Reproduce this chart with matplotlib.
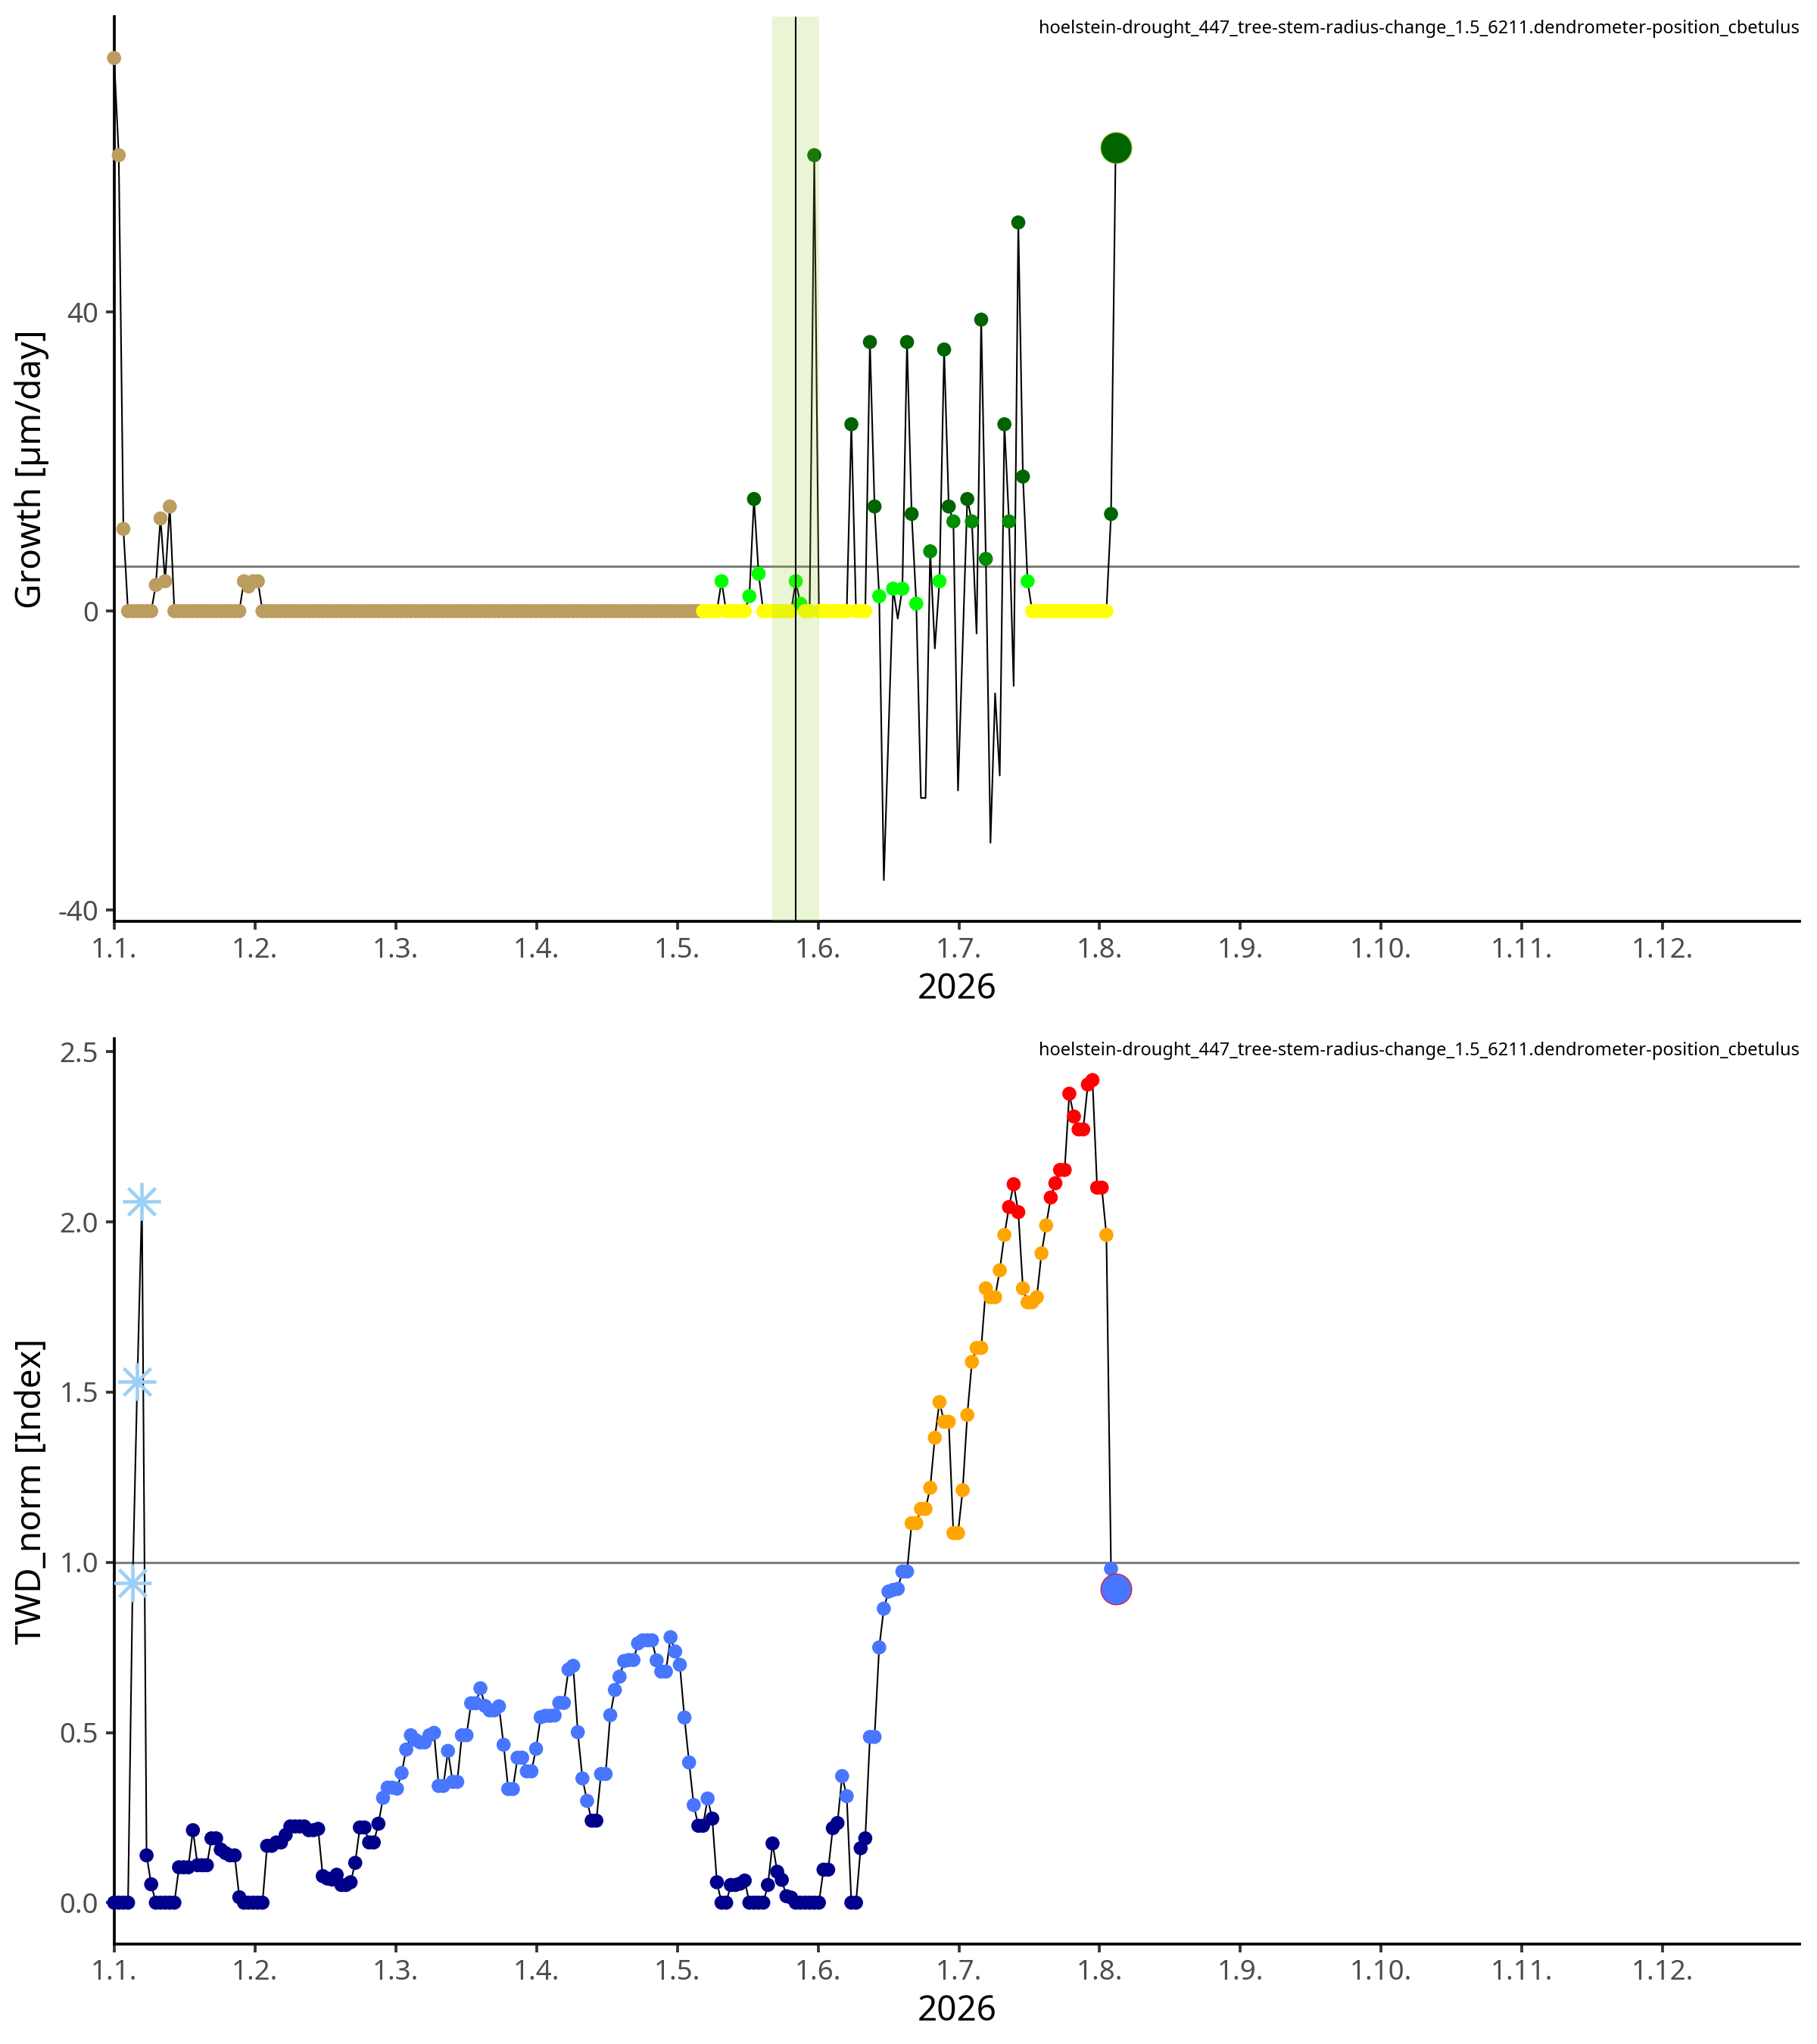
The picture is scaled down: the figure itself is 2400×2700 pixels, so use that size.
import numpy as np
import matplotlib

matplotlib.use("Agg")
import matplotlib.pyplot as plt

plt.rcParams["font.family"] = ["Noto Sans", "DejaVu Sans"]

nan = float("nan")

series_name = "hoelstein-drought_447_tree-stem-radius-change_1.5_6211.dendrometer-position_cbetulus"
year_label = "2026"
month_labels = ["1.1.", "1.2.", "1.3.", "1.4.", "1.5.", "1.6.",
                "1.7.", "1.8.", "1.9.", "1.10.", "1.11.", "1.12."]

# daily growth [um/day], day 0 = 1 Jan
growth = (
    [74, 61, 11, 0, 0, 0, 0, 0, 0, 3.5, 12.4, 4, 14]                 # d0-12
    + [0] * 15                                                        # d13-27
    + [4, 3.3, 4, 4]                                                  # d28-31
    + [0] * 95                                                        # d32-126
    + [0, 0, 0, 0, 4, 0, 0, 0, 0, 0, 2, 15, 5]                        # d127-139
    + [0, 0, 0, 0, 0, 0, 0, 4, 1, 0, 0, 61]                           # d140-151
    + [0, 0, 0, 0, 0, 0, 0, 25, 0, 0, 0, 36, 14, 2, -36, nan, 3, -1, 3, 36]   # d152-171
    + [13, 1, -25, -25, 8, -5, 4, 35, 14, 12, -24, nan, 15, 12, -3, 39, 7, -31, -11, -22]  # d172-191
    + [25, 12, -10, 52, 18, 4]                                        # d192-197
    + [0] * 17                                                        # d198-214
    + [13, 62]                                                        # d215-216
)

# daily TWD_norm [Index]
twd_norm = [
    0, 0, 0, 0, 0.94, 1.53, 2.06, 0.139, 0.054, 0,
    0, 0, 0, 0, 0.104, 0.104, 0.104, 0.213, 0.11, 0.11,
    0.11, 0.189, 0.189, 0.156, 0.146, 0.139, 0.139, 0.016, 0, 0,
    0, 0, 0, 0.167, 0.167, 0.177, 0.177, 0.199, 0.224, 0.224,
    0.224, 0.224, 0.213, 0.213, 0.217, 0.078, 0.071, 0.068, 0.082, 0.052,
    0.052, 0.060, 0.117, 0.221, 0.221, 0.177, 0.177, 0.232, 0.308, 0.338,
    0.338, 0.335, 0.381, 0.450, 0.492, 0.478, 0.471, 0.471, 0.492, 0.499,
    0.343, 0.343, 0.446, 0.355, 0.355, 0.492, 0.492, 0.586, 0.586, 0.630,
    0.578, 0.565, 0.565, 0.577, 0.464, 0.334, 0.334, 0.426, 0.426, 0.386,
    0.386, 0.452, 0.545, 0.549, 0.549, 0.550, 0.587, 0.587, 0.685, 0.696,
    0.501, 0.365, 0.299, 0.241, 0.241, 0.378, 0.378, 0.551, 0.625, 0.664,
    0.710, 0.713, 0.713, 0.762, 0.771, 0.771, 0.771, 0.712, 0.679, 0.679,
    0.780, 0.738, 0.699, 0.544, 0.412, 0.287, 0.226, 0.226, 0.306, 0.247,
    0.060, 0, 0, 0.052, 0.052, 0.056, 0.065, 0, 0, 0,
    0, 0.052, 0.174, 0.091, 0.067, 0.019, 0.015, 0, 0, 0,
    0, 0, 0, 0.097, 0.097, 0.219, 0.234, 0.372, 0.313, 0,
    0, 0.160, 0.189, 0.487, 0.487, 0.750, 0.864, 0.914, 0.919, 0.922,
    0.973, 0.973, 1.115, 1.115, 1.157, 1.157, 1.219, 1.366, 1.471, 1.413,
    1.413, 1.086, 1.086, 1.212, 1.433, 1.589, 1.630, 1.630, 1.805, 1.779,
    1.779, 1.858, 1.962, 2.044, 2.111, 2.029, 1.805, 1.764, 1.764, 1.779,
    1.908, 1.990, 2.072, 2.114, 2.153, 2.153, 2.377, 2.310, 2.272, 2.272,
    2.404, 2.417, 2.101, 2.101, 1.962, 0.981, 0.922,
]

growth_start_day = 127      # tan (dormant) before this day
flag_days = [4, 5, 6]       # asterisk markers in TWD panel
band_days = (142, 152)
event_day = 147
growth_ref = 6
twd_ref = 1.0


def growth_color(day, v):
    if day < growth_start_day:
        return "#BB9D5F"
    if v == 0:
        return "#FFFF00"
    if v < 6:
        return "#00FF00"
    if v < 12.5:
        return "#008B00"
    return "#006400"


def twd_color(v):
    if v < 0.25:
        return "#00008B"
    if v < 1:
        return "#4876FF"
    if v < 2:
        return "#FFA500"
    return "#FF0000"


def style(ax, ylabel, yticks, ylabels, ylim):
    ax.set_xlim(0, 363.5)
    ax.set_ylim(*ylim)
    for s in ["top", "right"]:
        ax.spines[s].set_visible(False)
    for s in ["left", "bottom"]:
        ax.spines[s].set_linewidth(0.9)
        ax.spines[s].set_color("black")
    ax.set_xticks(np.linspace(0, 334, 12))
    ax.set_xticklabels(month_labels)
    ax.set_yticks(yticks)
    ax.set_yticklabels(ylabels)
    ax.tick_params(length=2.75, width=0.9, color="#333333", labelcolor="#4D4D4D",
                   labelsize=8.8, pad=2.2)
    ax.set_xlabel(year_label, fontsize=11, color="black")
    ax.xaxis.set_label_coords(0.5, -0.075)
    ax.xaxis.label.set_va("center")
    ax.set_ylabel(ylabel, fontsize=11, color="black")
    ax.yaxis.set_label_coords(-0.049, 0.5)
    ax.yaxis.label.set_va("center")
    ax.annotate(series_name, xy=(1, 1), xycoords="axes fraction", xytext=(0, -0.8),
                textcoords="offset points", ha="right", va="top", fontsize=5.7)


def main():
    days = np.arange(len(growth))
    g = np.array(growth, dtype=float)
    t = np.array(twd_norm, dtype=float)

    fig = plt.figure(figsize=(8, 9), dpi=300)
    ax1 = fig.add_axes([0.0628, 0.54926, 0.92763, 0.44248])
    ax2 = fig.add_axes([0.0628, 0.04900, 0.92763, 0.44274])

    # Growth panel
    ok = ~np.isnan(g)
    ax1.axhline(growth_ref, color="#7F7F7F", lw=0.75, zorder=1.5)
    ax1.plot(days[ok], g[ok], color="black", lw=0.5, zorder=2)
    px, py, pc = [], [], []
    for d, v in zip(days[:-1], g[:-1]):
        if np.isnan(v) or v < 0:
            continue
        px.append(d)
        py.append(v)
        pc.append(growth_color(d, v))
    ax1.scatter(px, py, s=20, c=pc, lw=0, zorder=3, clip_on=False)
    ax1.scatter([days[-1]], [g[-1]], s=96, c=[growth_color(days[-1], g[-1])],
                edgecolors="#7FA800", linewidths=0.25, zorder=3)
    ax1.axvspan(band_days[0], band_days[1], color="yellowgreen", alpha=0.2, lw=0, zorder=4)
    ax1.axvline(event_day, color="black", lw=0.5, zorder=5)
    style(ax1, "Growth [µm/day]", [-40, 0, 40], ["-40", "0", "40"], (-41.5, 79.5))

    # TWD panel
    ax2.axhline(twd_ref, color="#7F7F7F", lw=0.75, zorder=1.5)
    ax2.plot(days, t, color="black", lw=0.5, zorder=2)
    mx = [d for d in days[:-1] if d not in flag_days]
    my = [t[d] for d in mx]
    ax2.scatter(mx, my, s=20, c=[twd_color(v) for v in my], lw=0, zorder=3, clip_on=False)
    fx = flag_days
    fy = [t[d] for d in flag_days]
    ax2.plot(fx, fy, ls="none", marker="+", ms=12.2, mew=1.1, color="#9CCFF5", zorder=3)
    ax2.plot(fx, fy, ls="none", marker="x", ms=8.6, mew=1.1, color="#9CCFF5", zorder=3)
    ax2.scatter([days[-1]], [t[-1]], s=96, c=[twd_color(t[-1])],
                edgecolors="#FF0000", linewidths=0.25, zorder=3)
    style(ax2, "TWD_norm [Index]", [0, 0.5, 1.0, 1.5, 2.0, 2.5],
          ["0.0", "0.5", "1.0", "1.5", "2.0", "2.5"], (-0.121, 2.538))

    fig.savefig("out.png", dpi=300)
    plt.close(fig)


if __name__ == "__main__":
    main()
